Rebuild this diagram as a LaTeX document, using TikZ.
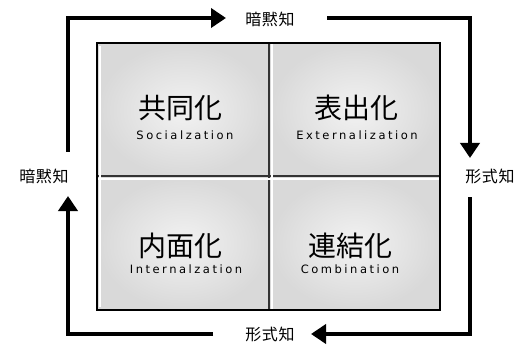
\documentclass[tikz,border=0pt]{standalone}
\usepackage{fontspec}
\setmainfont{Noto Sans CJK JP}
\newfontfamily\latinfont[LetterSpace=22]{DejaVu Sans}
\newfontfamily\jpfont{Noto Sans CJK JP}
\newfontfamily\jpsidefont[LetterSpace=4]{Noto Sans CJK JP}
\usetikzlibrary{arrows.meta}
\begin{document}
\begin{tikzpicture}[x=1pt,y=-1pt,
  flow/.style={line width=4pt, line join=miter, -{Triangle[length=15pt,width=19pt]}},
  biglabel/.style={font=\jpfont\fontsize{28}{28}\selectfont, inner sep=0pt},
  enlabel/.style={font=\latinfont\fontsize{11.5}{11.5}\selectfont, inner sep=0pt},
  sidelabel/.style={font=\jpsidefont\fontsize{16}{16}\selectfont, inner sep=0pt},
  cell/.style={inner color=white!95!black, outer color=black!15}
]
\useasboundingbox (0,0) rectangle (523,345);
% cells
\shade[cell] (97,43) rectangle (270,177);
\shade[cell] (270,43) rectangle (440,177);
\shade[cell] (97,177) rectangle (270,310);
\shade[cell] (270,177) rectangle (440,310);
% cell separators
\draw[line width=2pt, black!80] (269,43) -- (269,310);
\draw[line width=2pt, black!80] (97,176) -- (440,176);
\draw[line width=2pt, white] (272,43) -- (272,310);
\draw[line width=2pt, white] (97,179) -- (440,179);
\draw[line width=1.5pt, white] (100,46) -- (100,307);
\draw[line width=2.5pt, black] (97,43) rectangle (440,310);
% cell texts
\node[biglabel] (sj) at (180,108) {共同化};
\node[enlabel] (se) at (185,135) {Socialzation};
\node[biglabel] (ej) at (356,108) {表出化};
\node[enlabel] (ee) at (357,135) {Externalization};
\node[biglabel] (ij) at (180,246) {内面化};
\node[enlabel] (ie) at (186,269) {Internalzation};
\node[biglabel] (cj) at (350,246) {連結化};
\node[enlabel] (ce) at (350,269) {Combination};
% side labels
\node[sidelabel] (tl) at (270,19) {暗黙知};
\node[sidelabel] (ll) at (44,176) {暗黙知};
\node[sidelabel] (rl) at (490,176) {形式知};
\node[sidelabel] (bl) at (270,334) {形式知};
% route coordinates
\coordinate (tlc) at (68,18);
\coordinate (trc) at (470,18);
\coordinate (brc) at (470,334);
\coordinate (blc) at (68,334);
\coordinate (a1s) at (68,152);
\coordinate (a1e) at (226,18);
\coordinate (a2s) at (327,18);
\coordinate (a2e) at (470,158);
\coordinate (a3s) at (470,197);
\coordinate (a3e) at (311,334);
\coordinate (a4s) at (213,334);
\coordinate (a4e) at (68,196);
\draw[flow] (a1s) -- (tlc) -- (a1e);
\draw[flow] (a2s) -- (trc) -- (a2e);
\draw[flow] (a3s) -- (brc) -- (a3e);
\draw[flow] (a4s) -- (blc) -- (a4e);
\end{tikzpicture}
\end{document}
